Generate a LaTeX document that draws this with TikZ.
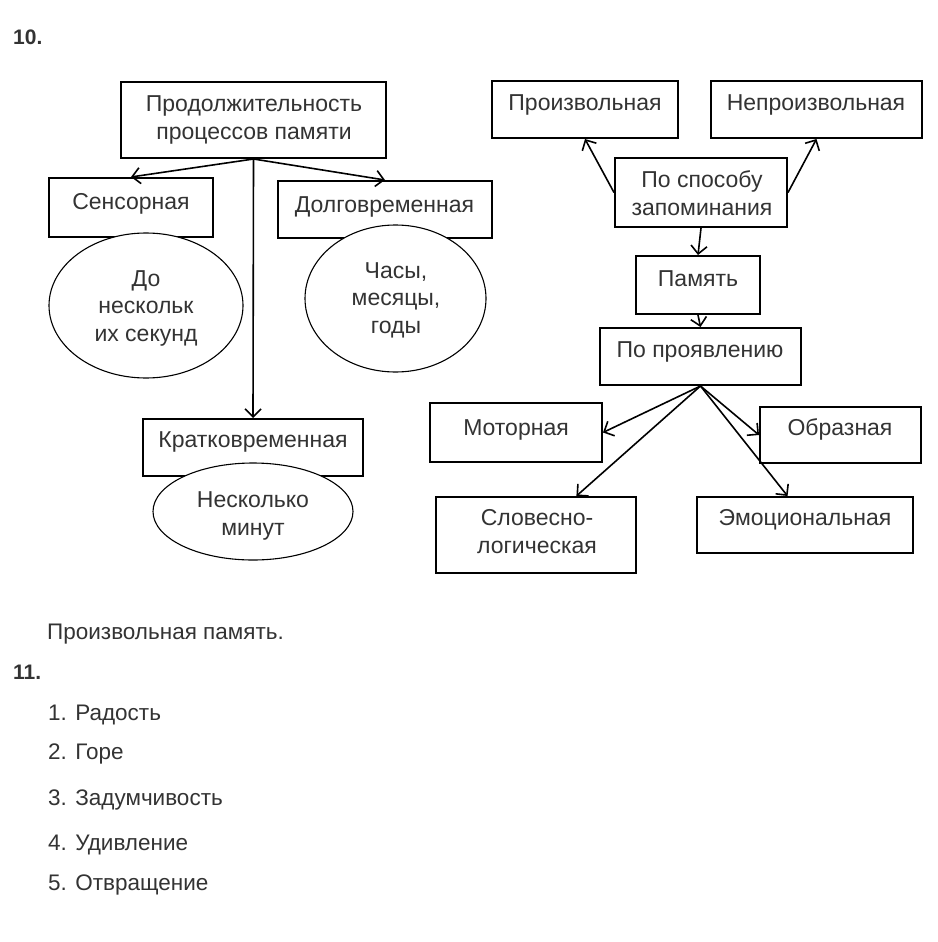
\documentclass[tikz,border=0pt]{standalone}
\usepackage{fontspec}
\setmainfont{Liberation Sans}
\usetikzlibrary{arrows.meta,shapes.geometric,calc}
\definecolor{txtc}{rgb}{0.2,0.2,0.2}
\begin{document}
\begin{tikzpicture}[x=1pt,y=-1pt,
  box/.style={draw, line width=2pt, inner sep=0pt, rectangle},
  ell/.style={draw, ellipse, line width=1.1pt, fill=white, inner sep=0pt},
  txt/.style={anchor=base, inner sep=0pt, align=center, text=txtc, font=\fontsize{23}{27.5}\selectfont},
  num/.style={anchor=base west, inner sep=0pt, text=txtc, font=\bfseries\fontsize{21}{24}\selectfont},
  plain/.style={anchor=base west, inner sep=0pt, text=txtc, font=\fontsize{22.5}{26}\selectfont},
  arr/.style={line width=1.6pt, -{Straight Barb[length=8pt,width=16pt,line width=1.6pt]}}]
\fill[white] (0,0) rectangle (937,942);
\useasboundingbox (0,0) rectangle (937,942);

% left boxes
\node[box, minimum width=265pt, minimum height=76pt] (prod) at (253.5,120) {};
\node[box, minimum width=164pt, minimum height=59pt] (sens) at (131,207.5) {};
\node[box, minimum width=214pt, minimum height=57pt] (dolg) at (385,209.5) {};
\node[box, minimum width=220pt, minimum height=57pt] (krat) at (253,447.5) {};

\node[txt] (tprod) at (254,139) {Продолжительность\\процессов памяти};
\node[txt] (tsens) at (131,209) {Сенсорная};
\node[txt] (tdolg) at (384.5,212) {Долговременная};
\node[txt] (tkrat) at (253,447) {Кратковременная};

% ellipses
\node[ell, minimum width=194pt, minimum height=145pt] (e1) at (146,305.5) {};
\node[ell, minimum width=181pt, minimum height=147pt] (e2) at (395.5,298.5) {};
\node[ell, minimum width=200pt, minimum height=97pt] (e3) at (253,511.5) {};
\node[txt] (te1) at (146,341) {До\\нескольк\\их секунд};
\node[txt] (te2) at (396,333) {Часы,\\месяцы,\\годы};
\node[txt] (te3) at (253,535) {Несколько\\минут};

% right boxes
\node[box, minimum width=186pt, minimum height=57pt] (proizv) at (585,109.5) {};
\node[box, minimum width=211pt, minimum height=57pt] (neproizv) at (816.5,109.5) {};
\node[box, minimum width=172pt, minimum height=69pt] (sposob) at (701,192.5) {};
\node[box, minimum width=124pt, minimum height=58pt] (pamyat) at (698,285) {};
\node[box, minimum width=201pt, minimum height=57pt] (proyav) at (700.5,356.5) {};
\node[box, minimum width=172pt, minimum height=59pt] (motor) at (516,432.5) {};
\node[box, minimum width=161pt, minimum height=56pt] (obraz) at (840.5,435) {};
\node[box, minimum width=200pt, minimum height=76pt] (slov) at (536,535) {};
\node[box, minimum width=216pt, minimum height=56pt] (emoc) at (805,525) {};

\node[txt] (tproizv) at (585,110) {Произвольная};
\node[txt] (tneproizv) at (816,110) {Непроизвольная};
\node[txt] (tsposob) at (702,215) {По способу\\запоминания};
\node[txt] (tpamyat) at (698,286) {Память};
\node[txt] (tproyav) at (700,357) {По проявлению};
\node[txt] (tmotor) at (516,435) {Моторная};
\node[txt] (tobraz) at (840,435) {Образная};
\node[txt] (tslov) at (537,553) {Словесно-\\логическая};
\node[txt] (temoc) at (805,525) {Эмоциональная};

% connectors
\draw[arr] (prod.south) -- (sens.north);
\draw[arr] (prod.south) -- (dolg.north);
\draw[arr] (prod.south) -- (krat.north);
\draw[arr] (sposob.west) -- (proizv.south);
\draw[arr] (sposob.east) -- (neproizv.south);
\draw[arr] (sposob.south) -- (pamyat.north);
\draw[arr] (pamyat.south) -- (proyav.north);
\draw[arr] (proyav.south) -- (motor.east);
\draw[arr] (proyav.south) -- (obraz.west);
\draw[arr] (proyav.south) -- ($(slov.north west)!0.7!(slov.north east)$);
\draw[arr] (proyav.south) -- ($(emoc.north west)!0.42!(emoc.north east)$);

% headings and plain text
\node[num] (n10) at (13,45) {10.};
\node[plain] (ans) at (47,639) {Произвольная память.};
\node[num] (n11) at (13,679) {11.};
\node[plain] (l1) at (48,720) {1. Радость};
\node[plain] (l2) at (48,759) {2. Горе};
\node[plain] (l3) at (48,805) {3. Задумчивость};
\node[plain] (l4) at (48,850) {4. Удивление};
\node[plain] (l5) at (48,890) {5. Отвращение};
\end{tikzpicture}
\end{document}
